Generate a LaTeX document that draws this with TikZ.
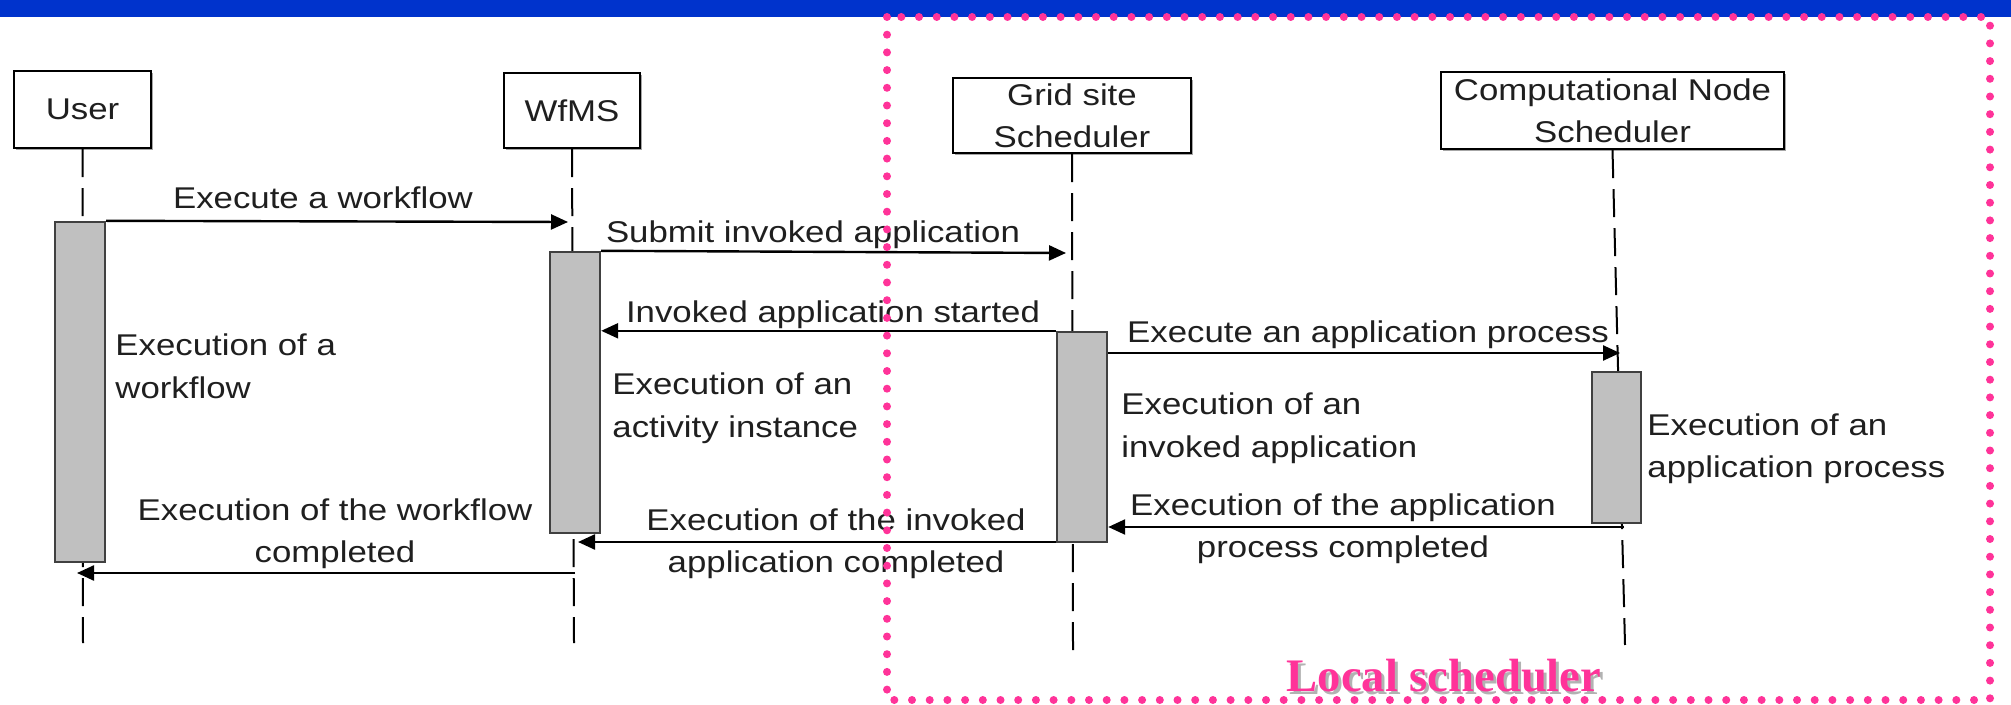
\documentclass[tikz,border=0pt]{standalone}
\usepackage{fontspec}
\setmainfont{Liberation Sans}[FakeStretch=1.16]
\newfontfamily\titlefont{Liberation Serif}
\usetikzlibrary{arrows.meta,fit,shadows}

\definecolor{slideblue}{HTML}{0033CC}
\definecolor{framepink}{HTML}{FF3399}
\definecolor{barfill}{HTML}{C0C0C0}

\begin{document}
\begin{tikzpicture}[x=0.5pt,y=-0.5pt,
  every node/.style={font=\fontsize{15pt}{21pt}\selectfont, text=black!88, inner sep=0pt},
  head/.style={draw, line width=1.2pt, fill=white, align=center,
    drop shadow={shadow xshift=0.8pt, shadow yshift=-0.8pt, fill=black!35, opacity=1}},
  life/.style={line width=1pt, dash pattern=on 14pt off 5.5pt},
  bar/.style={draw=black!75, line width=1.2pt, fill=barfill, inner sep=0pt},
  msg/.style={line width=1.2pt, -{Triangle[length=8.5pt,width=7.5pt]}},
  lbl/.style={align=center, anchor=base},
  note/.style={align=left, anchor=base west},
  banner/.style={font=\titlefont\bfseries\fontsize{23.3pt}{23.3pt}\selectfont, anchor=base}
]
\useasboundingbox (0,0) rectangle (2011,705);

% slide header strip
\fill[slideblue] (0,0) rectangle (2011,17);

% participants
\node[head, minimum width=68.5pt, minimum height=38.5pt] (user) at (82.5,109.5) {User};
\node[head, minimum width=68pt, minimum height=37.5pt] (wfms) at (572,110.5) {WfMS};
\node[head, minimum width=119pt, minimum height=37.5pt] (grid) at (1072,115.5) {Grid site\\Scheduler};
\node[head, minimum width=171.5pt, minimum height=38.5pt] (cns) at (1612.5,110.5) {Computational Node\\Scheduler};

% lifelines
\coordinate (uEnd) at (83,643);
\coordinate (wEnd) at (574,643);
\coordinate (gEnd) at (1073,650);
\coordinate (cEnd) at (1625,645);
\draw[life] (user.south) -- (uEnd);
\draw[life] (wfms.south) -- (wEnd);
\draw[life] (grid.south) -- (gEnd);
\draw[life] (cns.south) -- (cEnd);

% activation bars
\node[bar, fit={(55,222) (105,562)}] (ub) {};
\node[bar, fit={(550,252) (600,533)}] (wb) {};
\node[bar, fit={(1057,332) (1107,542)}] (gb) {};
\node[bar, fit={(1592,372) (1641,523)}] (cb) {};

% messages
\coordinate (m1) at (568,222);
\draw[msg] (ub.north east) -- (m1);
\coordinate (m2) at (1066,253);
\draw[msg] (wb.north east) -- (m2);
\draw[msg] (gb.north west) -- (gb.north west -| wb.east);
\coordinate (m4) at (1620,353);
\draw[msg] (gb.east |- m4) -- (m4);
\coordinate (m5) at (1624,527);
\draw[msg] (m5) -- (m5 -| gb.east);
\coordinate (m6) at (578,542);
\draw[msg] (m6 -| gb.west) -- (m6);
\coordinate (m7s) at (575,573);
\coordinate (m7e) at (77,573);
\draw[msg] (m7s) -- (m7e);

% message labels (multi-line ones are placed by their last baseline)
\node[lbl] (l1) at (323,209) {Execute a workflow};
\node[lbl] (l2) at (813,243) {Submit invoked application};
\node[lbl] (l3) at (833,323) {Invoked application started};
\node[lbl] (l4) at (1368,343) {Execute an application process};
\node[lbl] (l5) at (1343,557) {Execution of the application\\process completed};
\node[lbl] (l6) at (836,572) {Execution of the invoked\\application completed};
\node[lbl] (l7) at (335,562) {Execution of the workflow\\completed};

% activation notes
\node[note] (n1) at (115,398) {Execution of a\\workflow};
\node[note] (n2) at (612,437) {Execution of an\\activity instance};
\node[note] (n3) at (1121,457) {Execution of an\\invoked application};
\node[note] (n4) at (1647,477) {Execution of an\\application process};

% local scheduler frame
\draw[framepink, line width=4pt, line cap=round, dash pattern=on 0pt off 8.85pt]
  (887,17) rectangle (1990,700);
\node[banner, text=black!30] (titleshade) at (1447,694) {Local scheduler};
\node[banner, text=framepink] (title) at (1444,691) {Local scheduler};
\end{tikzpicture}
\end{document}
